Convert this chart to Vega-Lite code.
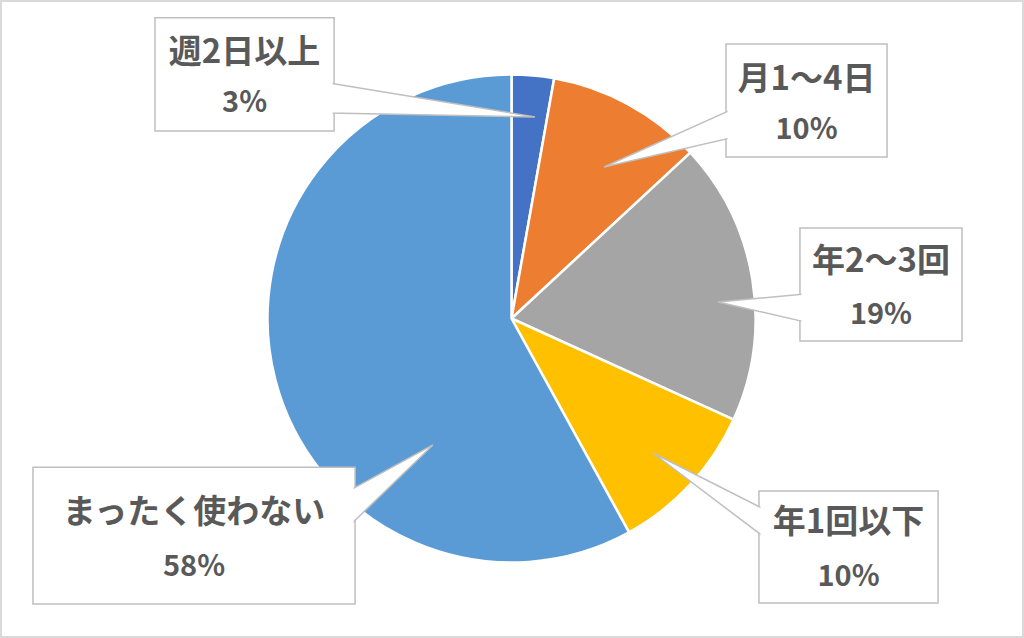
{
  "$schema": "https://vega.github.io/schema/vega-lite/v6.json",
  "width": 1024,
  "height": 638,
  "padding": 1,
  "autosize": {"type": "fit", "contains": "padding"},
  "background": "white",
  "config": {
    "view": {"stroke": "#d9d9d9", "strokeWidth": 2},
    "text": {"font": "Noto Sans CJK JP", "fontWeight": "bold", "color": "#595959"}
  },
  "data": {
    "values": [
      {"category": "週2日以上", "value": 2.8, "order": 1},
      {"category": "月1～4日", "value": 10.3, "order": 2},
      {"category": "年2～3回", "value": 18.7, "order": 3},
      {"category": "年1回以下", "value": 10.2, "order": 4},
      {"category": "まったく使わない", "value": 58.0, "order": 5}
    ]
  },
  "transform": [
    {"calculate": "[-146.1, 87.9, 118.2, 101.4, -196.1][datum.order - 1]", "as": "bx0"},
    {"calculate": "[-72.7, 153.9, 184.6, 174.8, -64.1][datum.order - 1]", "as": "bx1"},
    {"calculate": "[123.2, 112.5, 37.1, -70.7, -60.9][datum.order - 1]", "as": "by0"},
    {"calculate": "[76.8, 66.2, -9.2, -116.6, -117.0][datum.order - 1]", "as": "by1"},
    {"calculate": "(datum.bx0 + datum.bx1) / 2", "as": "tx"},
    {"calculate": "[108.8, 97.7, 23.2, -83.8, -79.7][datum.order - 1]", "as": "ty1"},
    {"calculate": "[88.3, 77.3, 1.4, -105.9, -101.8][datum.order - 1]", "as": "ty2"},
    {"calculate": "format(datum.value, '.0f') + '%'", "as": "pct"}
  ],
  "layer": [
    {
      "mark": {"type": "arc", "outerRadius": 244, "stroke": "white", "strokeWidth": 2.5},
      "encoding": {
        "theta": {"field": "value", "type": "quantitative", "stack": true},
        "order": {"field": "order", "type": "quantitative"},
        "x": {"datum": 0, "type": "quantitative", "scale": {"domain": [-209.2, 209.6], "nice": false, "zero": false}, "axis": null},
        "y": {"datum": 0, "type": "quantitative", "scale": {"domain": [-130.5, 130.1], "nice": false, "zero": false}, "axis": null},
        "color": {
          "field": "category",
          "type": "nominal",
          "scale": {
            "domain": ["週2日以上", "月1～4日", "年2～3回", "年1回以下", "まったく使わない"],
            "range": ["#4472c4", "#ed7d31", "#a5a5a5", "#ffc000", "#5b9bd5"]
          },
          "legend": null
        }
      }
    },
    {
      "mark": {"type": "rect", "fill": "white", "stroke": "#bfbfbf", "strokeWidth": 1.5},
      "encoding": {
        "x": {"field": "bx0", "type": "quantitative"},
        "x2": {"field": "bx1"},
        "y": {"field": "by0", "type": "quantitative"},
        "y2": {"field": "by1"}
      }
    },
    {
      "transform": [
        {"calculate": "[[-74.7, 9.6], [89.9, 37.9], [120.2, 84.6], [103.4, 58.0], [-66.1, -32.2]][datum.order - 1]", "as": "ax"},
        {"calculate": "[[96.5, 82.6], [85.5, 62.1], [10.0, 6.8], [-78.1, -55.1], [-70.3, -51.8]][datum.order - 1]", "as": "ay"},
        {"calculate": "[[84.2, 82.6], [74.0, 62.1], [-1.4, 6.8], [-89.5, -55.1], [-84.6, -51.8]][datum.order - 1]", "as": "ay2"},
        {"flatten": ["ax", "ay", "ay2"]}
      ],
      "mark": {"type": "area", "fill": "white", "stroke": "#bfbfbf", "strokeWidth": 1.5, "orient": "vertical"},
      "encoding": {
        "x": {"field": "ax", "type": "quantitative"},
        "y": {"field": "ay", "type": "quantitative"},
        "y2": {"field": "ay2"},
        "detail": {"field": "category"}
      }
    },
    {
      "mark": {"type": "rect", "fill": "white", "xOffset": 1.5, "x2Offset": -1.5, "yOffset": 1.5, "y2Offset": -1.5},
      "encoding": {
        "x": {"field": "bx0", "type": "quantitative"},
        "x2": {"field": "bx1"},
        "y": {"field": "by0", "type": "quantitative"},
        "y2": {"field": "by1"}
      }
    },
    {
      "mark": {"type": "text", "fontSize": 33, "baseline": "middle", "align": "center"},
      "encoding": {
        "x": {"field": "tx", "type": "quantitative"},
        "y": {"field": "ty1", "type": "quantitative"},
        "text": {"field": "category"}
      }
    },
    {
      "mark": {"type": "text", "fontSize": 29, "baseline": "middle", "align": "center"},
      "encoding": {
        "x": {"field": "tx", "type": "quantitative"},
        "y": {"field": "ty2", "type": "quantitative"},
        "text": {"field": "pct"}
      }
    }
  ]
}
